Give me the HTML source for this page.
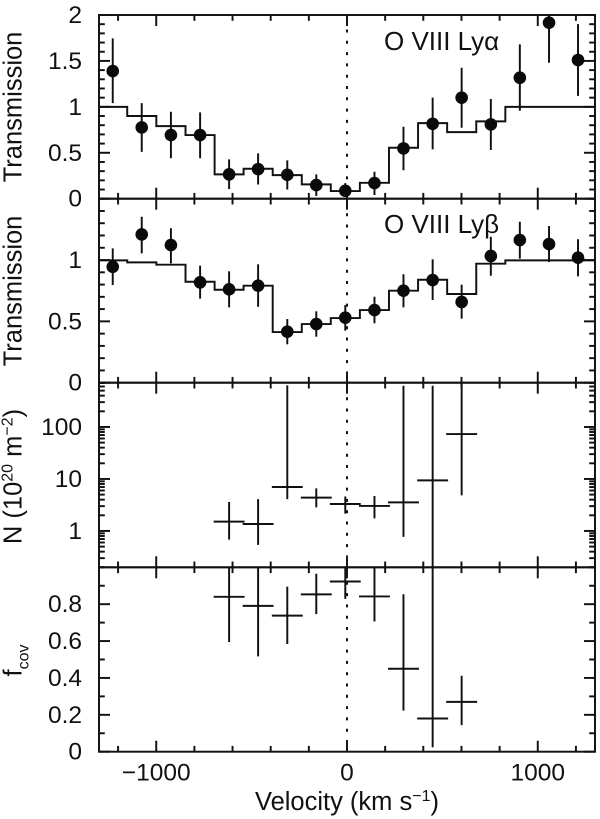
<!DOCTYPE html>
<html>
<head>
<meta charset="utf-8">
<title>O VIII transmission chart</title>
<style>
html,body{margin:0;padding:0;background:#fff;}
svg{display:block;}
text{font-family:"Liberation Sans",sans-serif;fill:#111;}
</style>
</head>
<body>
<svg id="chart" xmlns="http://www.w3.org/2000/svg" width="600" height="819" viewBox="0 0 600 819">
  <defs>
    <clipPath id="clip-a"><rect x="99" y="15" width="496" height="183.7"/></clipPath>
    <clipPath id="clip-b"><rect x="99" y="198.7" width="496" height="184"/></clipPath>
    <clipPath id="clip-c"><rect x="99" y="382.7" width="496" height="184.6"/></clipPath>
    <clipPath id="clip-d"><rect x="99" y="567.3" width="496" height="184.4"/></clipPath>
  </defs>
  <g id="marks"></g>
  <g id="labels" font-size="24.5"></g>
  <text transform="translate(21.5,107) rotate(-90)" text-anchor="middle" font-size="25.5">Transmission</text>
  <text transform="translate(21.5,291) rotate(-90)" text-anchor="middle" font-size="25.5">Transmission</text>
  <text transform="translate(21.5,476.5) rotate(-90)" text-anchor="middle" font-size="25.5">N (10<tspan font-size="16" dy="-9">20</tspan><tspan dy="9"> m</tspan><tspan font-size="16" dy="-9">−2</tspan><tspan dy="9">)</tspan></text>
  <text transform="translate(21.5,660.5) rotate(-90)" text-anchor="middle" font-size="25.5">f<tspan font-size="16" dy="7">cov</tspan></text>
  <text x="347" y="810" text-anchor="middle" font-size="25.5">Velocity (km s<tspan font-size="16" dy="-9">−1</tspan><tspan dy="9">)</tspan></text>
  <text x="384" y="50" font-size="26">O VIII Lyα</text>
  <text x="384" y="233" font-size="26">O VIII Lyβ</text>
</svg>
<script>
// ---- chart data ----
const velocities = [-1228,-1076,-923,-770,-618,-466,-313,-161,-9,144,296,449,601,754,906,1059,1211];
const lyaValues = [1.39,0.776,0.693,0.693,0.265,0.322,0.26,0.148,0.086,0.17,0.548,0.816,1.10,0.809,1.317,1.916,1.51];
const lyaUpper  = [1.746,1.04,0.947,0.94,0.428,0.493,0.417,0.265,0.17,0.293,0.783,1.10,1.426,1.085,1.68,2.0,1.9];
const lyaLower  = [1.04,0.51,0.44,0.44,0.105,0.155,0.10,0.03,0.02,0.04,0.31,0.537,0.772,0.53,0.957,1.48,1.12];
const lyaModel  = [1.0,0.90,0.79,0.693,0.265,0.326,0.257,0.156,0.083,0.173,0.555,0.823,0.725,0.842,1.0,1.0,1.0];
const lybValues = [0.945,1.209,1.122,0.818,0.761,0.791,0.416,0.478,0.53,0.592,0.75,0.837,0.658,1.033,1.163,1.13,1.019];
const lybUpper  = [1.095,1.353,1.259,0.954,0.908,0.965,0.519,0.582,0.633,0.701,0.884,1.006,0.799,1.19,1.312,1.277,1.169];
const lybLower  = [0.796,1.054,0.973,0.685,0.614,0.619,0.313,0.375,0.424,0.484,0.614,0.674,0.522,0.872,1.011,0.984,0.867];
const lybModel  = [0.997,0.981,0.962,0.823,0.758,0.791,0.413,0.478,0.527,0.592,0.75,0.839,0.723,0.97,0.997,0.997,0.997];
const fitVelocities = [-618,-466,-313,-161,-9,144,296,449,601];
const fitHalfWidth = 81;
const nValues = [1.51,1.36,7.0,4.37,3.3,3.03,3.55,9.4,73];
const nUpper  = [3.6,4.1,630,6.6,4.6,4.7,620,620,720];
const nLower  = [0.68,0.54,4.1,2.84,2.15,1.75,0.77,0.2,4.84];
const fValues = [0.84,0.791,0.738,0.853,0.923,0.842,0.45,0.18,0.27];
const fUpper  = [1.0,1.0,0.895,0.965,1.0,1.0,0.854,1.0,0.412];
const fLower  = [0.595,0.517,0.584,0.746,0.829,0.706,0.223,0.024,0.144];
const xTickValues = [-1200,-1000,-800,-600,-400,-200,0,200,400,600,800,1000,1200];
const xMajorTicks = [-1000,0,1000];
const xTickLabels = ["−1000","0","1000"];
const lyaTicks = [0,0.1,0.2,0.3,0.4,0.5,0.6,0.7,0.8,0.9,1,1.1,1.2,1.3,1.4,1.5,1.6,1.7,1.8,1.9,2];
const lyaMajor = [0,0.5,1,1.5,2];
const lyaLabels = ["0","0.5","1","1.5","2"];
const lybTicks = [0,0.1,0.2,0.3,0.4,0.5,0.6,0.7,0.8,0.9,1,1.1,1.2,1.3,1.4,1.5];
const lybMajor = [0,0.5,1];
const lybLabels = ["0","0.5","1"];
const nTicks = [0.2,0.3,0.4,0.5,0.6,0.7,0.8,0.9,1,2,3,4,5,6,7,8,9,10,20,30,40,50,60,70,80,90,100,200,300,400,500,600,700];
const nMajor = [1,10,100];
const nLabels = ["1","10","100"];
const fTicks = [0,0.1,0.2,0.3,0.4,0.5,0.6,0.7,0.8,0.9,1];
const fMajor = [0,0.2,0.4,0.6,0.8];
const fLabels = ["0","0.2","0.4","0.6","0.8"];

// ---- axis functions ----
const SVGNS = "http://www.w3.org/2000/svg";
const marks = document.getElementById("marks");
const labels = document.getElementById("labels");
const LEFT = 99, RIGHT = 595, XMIN = -1300, XMAX = 1300;
const xScale = v => LEFT + (v - XMIN) / (XMAX - XMIN) * (RIGHT - LEFT);
const linScale = (min, max, top, bottom) => v => bottom - (v - min) / (max - min) * (bottom - top);
const logScale = (min, max, top, bottom) => v => bottom - (Math.log10(v) - Math.log10(min)) / (Math.log10(max) - Math.log10(min)) * (bottom - top);
const MAJOR = 11, MINOR = 5.8, SW = 1.95;

function line(parent, x1, y1, x2, y2, width) {
  const el = document.createElementNS(SVGNS, "line");
  el.setAttribute("x1", x1);
  el.setAttribute("y1", y1);
  el.setAttribute("x2", x2);
  el.setAttribute("y2", y2);
  el.setAttribute("stroke", "#111");
  el.setAttribute("stroke-width", width || SW);
  parent.appendChild(el);
  return el;
}

function group(parent, name) {
  const g = document.createElementNS(SVGNS, "g");
  
  
  parent.appendChild(g);
  return g;
}

function drawAxes(prefix, top, bottom, y, ticks, major, tickLabels) {
  const g = group(marks, prefix + "-axes");
  const rect = document.createElementNS(SVGNS, "rect");
  rect.setAttribute("x", LEFT);
  rect.setAttribute("y", top);
  rect.setAttribute("width", RIGHT - LEFT);
  rect.setAttribute("height", bottom - top);
  rect.setAttribute("fill", "none");
  rect.setAttribute("stroke", "#111");
  rect.setAttribute("stroke-width", SW);
  
  
  g.appendChild(rect);
  xTickValues.forEach(v => {
    const len = xMajorTicks.includes(v) ? MAJOR : MINOR;
    line(g, xScale(v), bottom, xScale(v), bottom - len);
    line(g, xScale(v), top, xScale(v), top + len);
  });
  ticks.forEach(v => {
    const len = major.includes(v) ? MAJOR : MINOR;
    line(g, LEFT, y(v), LEFT + len, y(v));
    line(g, RIGHT, y(v), RIGHT - len, y(v));
  });
  major.forEach((v, i) => {
    const t = document.createElementNS(SVGNS, "text");
    t.setAttribute("x", 82);
    t.setAttribute("y", y(v) + 8);
    t.setAttribute("text-anchor", "end");
    
    
    t.textContent = tickLabels[i];
    labels.appendChild(t);
  });
  const dots = line(g, xScale(0), top + 14.5, xScale(0), bottom - MAJOR);
  dots.setAttribute("stroke-dasharray", "3 8.3");
  dots.setAttribute("stroke-width", "2");
  
  
}

function drawModel(prefix, clip, y, model) {
  const edges = velocities.map((v, i) => i === 0 ? XMIN : (velocities[i - 1] + v) / 2);
  edges.push(XMAX);
  let d = "";
  model.forEach((m, i) => {
    d += (i === 0 ? "M" : "L") + xScale(edges[i]).toFixed(2) + " " + y(m).toFixed(2);
    d += "L" + xScale(edges[i + 1]).toFixed(2) + " " + y(m).toFixed(2);
  });
  const p = document.createElementNS(SVGNS, "path");
  p.setAttribute("d", d);
  p.setAttribute("fill", "none");
  p.setAttribute("stroke", "#111");
  p.setAttribute("stroke-width", SW);
  p.setAttribute("clip-path", "url(#" + clip + ")");
  
  
  marks.appendChild(p);
}

function drawPoints(prefix, clip, y, values, upper, lower) {
  const g = group(marks, prefix + "-data-points");
  g.setAttribute("clip-path", "url(#" + clip + ")");
  values.forEach((val, i) => {
    const x = xScale(velocities[i]);
    const bar = line(g, x, y(upper[i]), x, y(lower[i]));
    
    
    const c = document.createElementNS(SVGNS, "circle");
    c.setAttribute("cx", x);
    c.setAttribute("cy", y(val));
    c.setAttribute("r", 6.3);
    c.setAttribute("fill", "#0a0a0a");
    
    
    g.appendChild(c);
  });
}

function drawCrosses(prefix, clip, y, values, upper, lower) {
  const g = group(marks, prefix + "-fit-crosses");
  g.setAttribute("clip-path", "url(#" + clip + ")");
  values.forEach((val, i) => {
    const v = fitVelocities[i];
    const vbar = line(g, xScale(v), y(upper[i]), xScale(v), y(lower[i]));
    
    
    const hbar = line(g, xScale(v - fitHalfWidth), y(val), xScale(v + fitHalfWidth), y(val));
    
    
  });
}

// ---- panels ----
const yLya = linScale(0, 2, 15, 198.7);
const yLyb = linScale(0, 1.5, 198.7, 382.7);
const yN = logScale(0.2, 710, 382.7, 567.3);
const yF = linScale(0, 1, 567.3, 751.7);

drawAxes("lya", 15, 198.7, yLya, lyaTicks, lyaMajor, lyaLabels);
drawModel("lya", "clip-a", yLya, lyaModel);
drawPoints("lya", "clip-a", yLya, lyaValues, lyaUpper, lyaLower);

drawAxes("lyb", 198.7, 382.7, yLyb, lybTicks, lybMajor, lybLabels);
drawModel("lyb", "clip-b", yLyb, lybModel);
drawPoints("lyb", "clip-b", yLyb, lybValues, lybUpper, lybLower);

drawAxes("column-density", 382.7, 567.3, yN, nTicks, nMajor, nLabels);
drawCrosses("column-density", "clip-c", yN, nValues, nUpper, nLower);

drawAxes("covering-fraction", 567.3, 751.7, yF, fTicks, fMajor, fLabels);
drawCrosses("covering-fraction", "clip-d", yF, fValues, fUpper, fLower);

xMajorTicks.forEach((v, i) => {
  const t = document.createElementNS(SVGNS, "text");
  t.setAttribute("x", xScale(v));
  t.setAttribute("y", 780.5);
  t.setAttribute("text-anchor", "middle");
  
  
  t.textContent = xTickLabels[i];
  labels.appendChild(t);
});
</script>
</body>
</html>
